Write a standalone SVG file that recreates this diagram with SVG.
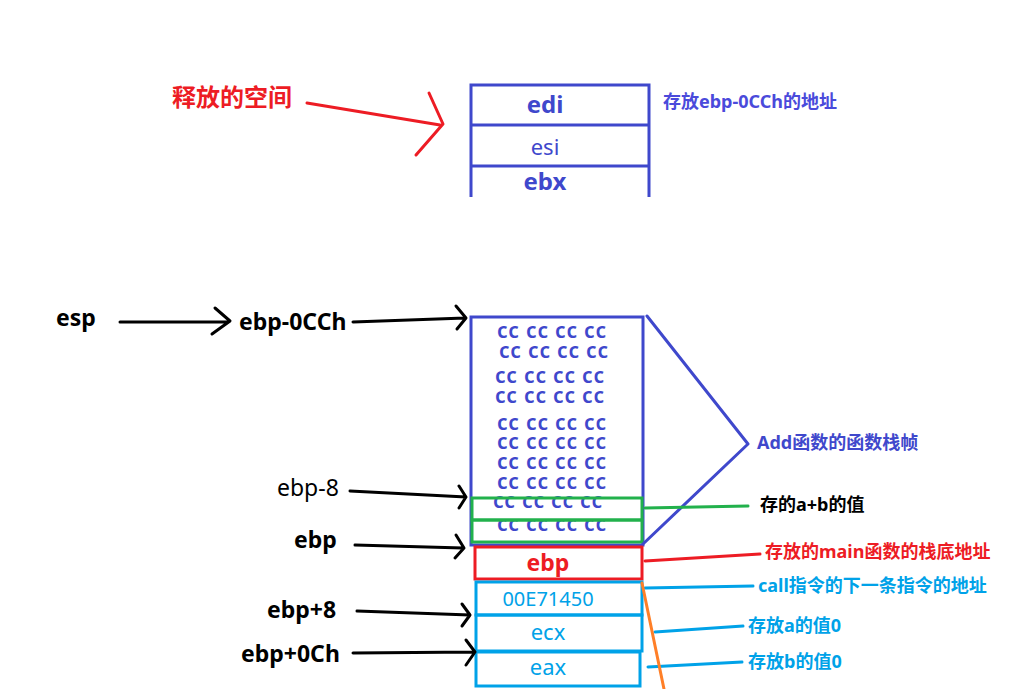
<svg xmlns="http://www.w3.org/2000/svg" width="1025" height="689" viewBox="0 0 1025 689">
<style>
text{font-family:"Noto Sans","Noto Sans CJK SC",sans-serif;}
.b{font-weight:bold;}
.blue{fill:#3f48cc;}
.box{fill:none;stroke-width:3;}
.bl{stroke:#3f48cc;}
.gr{stroke:#22b14c;}
.rd{stroke:#ed1c24;}
.cy{stroke:#00a2e8;}
.ln{fill:none;stroke-width:3;stroke-linecap:round;stroke-linejoin:round;}
.k{stroke:#000;}
.cc{font-size:21px;font-weight:600;fill:#3f48cc;}
.lab{font-size:23px;fill:#000;}
.note{font-size:18px;font-weight:bold;}
</style>
<rect width="1025" height="689" fill="#fff"/>
<g id="released-label">
<text x="172" y="106" class="b" font-size="24" fill="#ed1c24">释放的空间</text>
</g>
<g id="top-stack">
<path class="box bl" d="M471,197 V85 H649 V197"/>
<line class="box bl" x1="471" y1="125" x2="649" y2="125"/>
<line class="box bl" x1="471" y1="166" x2="649" y2="166"/>
<text x="545" y="113" text-anchor="middle" class="b blue" font-size="24">edi</text>
<text x="545" y="155" text-anchor="middle" class="blue" font-size="22">esi</text>
<text x="545" y="190" text-anchor="middle" class="b blue" font-size="24">ebx</text>
<text x="663" y="108" class="b" font-size="18" fill="#4a4adb">存放ebp-0CCh的地址</text>
</g>
<g id="frame">
<rect class="box bl" x="471" y="317" width="172" height="228"/>
<g class="cc">
<text x="497" y="338" textLength="109" lengthAdjust="spacing">cc cc cc cc</text>
<text x="499" y="358" textLength="109" lengthAdjust="spacing">cc cc cc cc</text>
<text x="495" y="383" textLength="109" lengthAdjust="spacing">cc cc cc cc</text>
<text x="495" y="403" textLength="109" lengthAdjust="spacing">cc cc cc cc</text>
<text x="497" y="430" textLength="109" lengthAdjust="spacing">cc cc cc cc</text>
<text x="497" y="449" textLength="109" lengthAdjust="spacing">cc cc cc cc</text>
<text x="497" y="469" textLength="109" lengthAdjust="spacing">cc cc cc cc</text>
<text x="497" y="489" textLength="109" lengthAdjust="spacing">cc cc cc cc</text>
<text x="493" y="508" textLength="109" lengthAdjust="spacing">cc cc cc cc</text>
<text x="497" y="531" textLength="109" lengthAdjust="spacing">cc cc cc cc</text>
</g>
<text x="757" y="449" class="note" fill="#3f48cc">Add函数的函数栈帧</text>
</g>
<g id="ab-slot">
<rect class="box gr" x="472" y="498" width="170" height="22"/>
<rect class="box gr" x="472" y="520" width="170" height="22"/>
<text x="760" y="511" class="note" fill="#000">存的a+b的值</text>
</g>
<g id="ebp-slot">
<rect class="box rd" x="475" y="547" width="167" height="32"/>
<text x="548" y="571" text-anchor="middle" class="b" font-size="23" fill="#ed1c24">ebp</text>
<text x="765" y="558" class="note" fill="#ed1c24">存放的main函数的栈底地址</text>
</g>
<g id="ret-slot">
<rect class="box cy" x="476" y="582" width="166" height="33"/>
<text x="548" y="606" text-anchor="middle" font-size="20" fill="#00a2e8">00E71450</text>
<text x="758" y="592" class="note" fill="#00a2e8">call指令的下一条指令的地址</text>
</g>
<g id="ecx-slot">
<rect class="box cy" x="476" y="615" width="166" height="36"/>
<text x="548" y="640" text-anchor="middle" font-size="22" fill="#00a2e8">ecx</text>
<text x="748" y="632" class="note" fill="#00a2e8">存放a的值0</text>
</g>
<g id="eax-slot">
<rect class="box cy" x="476" y="652" width="164" height="34"/>
<text x="548" y="675" text-anchor="middle" font-size="22" fill="#00a2e8">eax</text>
<text x="748" y="668" class="note" fill="#00a2e8">存放b的值0</text>
</g>
<g id="pointer-labels">
<text x="56" y="326" class="lab b">esp</text>
<text x="239" y="330" class="lab b">ebp-0CCh</text>
<text x="277" y="496" class="lab" font-size="24">ebp-8</text>
<text x="294" y="548" class="lab b">ebp</text>
<text x="267" y="618" class="lab b">ebp+8</text>
<text x="241" y="662" class="lab b">ebp+0Ch</text>
</g>
<g id="connectors">
<path class="ln" stroke="#ed1c24" d="M307,103 L440,125 M429,93 L443,124 L416,155"/>
<path class="ln bl" d="M647,316 L748,444 L643,544"/>
<path class="ln" stroke="#22b14c" d="M645,508 L748,506"/>
<path class="ln" stroke="#ed1c24" d="M645,561 L760,554"/>
<path class="ln" stroke="#00a2e8" d="M645,588 L753,586 M655,632 L743,626 M648,667 L742,662"/>
<path class="ln" stroke="#ff7f27" d="M642,583 L664,689"/>
<path class="ln k" d="M120,322 L228,322 M215,308 L230,321 L212,334"/>
<path class="ln k" d="M353,322 L465,318 M456,306 L466,318 L457,329" stroke-width="3.5"/>
<path class="ln k" d="M350,491 L466,497 M459,486 L466,497 L459,508" stroke-width="3.5"/>
<path class="ln k" d="M355,545 L463,548 M456,535 L464,548 L455,558" stroke-width="2.5"/>
<path class="ln k" d="M357,611 L470,615 M462,604 L470,615 L462,626" stroke-width="3.5"/>
<path class="ln k" d="M353,653 L475,652 M466,640 L475,652 L466,665" stroke-width="3.5"/>
</g>
</svg>
